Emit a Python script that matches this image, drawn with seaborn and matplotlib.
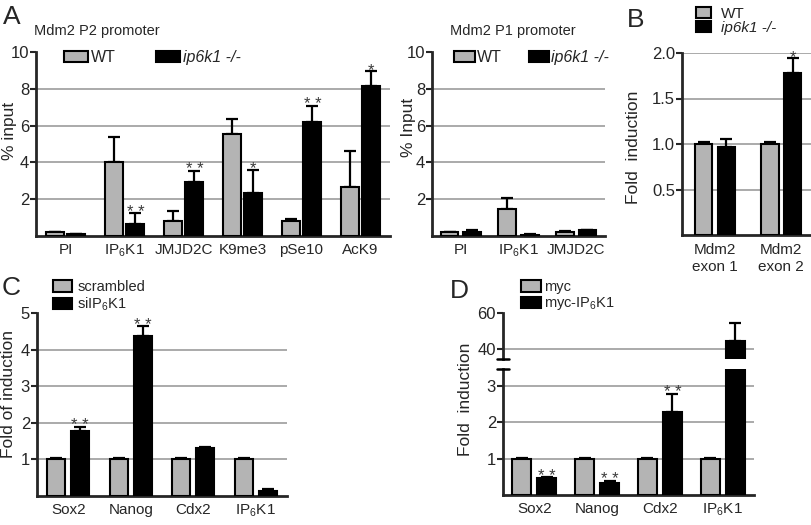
import numpy as np
import pandas as pd
import matplotlib
matplotlib.use("Agg")
import matplotlib.pyplot as plt
import seaborn as sns
from matplotlib.patches import Patch

# ---------------- data ----------------
p2_cats = ["PI", "IP$_6$K1", "JMJD2C", "K9me3", "pSe10", "AcK9"]
p2_wt = [0.20, 4.03, 0.83, 5.53, 0.83, 2.68]
p2_wt_err = [0.02, 1.35, 0.54, 0.85, 0.12, 1.95]
p2_ko = [0.10, 0.65, 2.91, 2.31, 6.20, 8.16]
p2_ko_err = [0.01, 0.58, 0.63, 1.27, 0.87, 0.79]
p2_ko_sig = ["", "**", "**", "*", "**", "*"]

p1_cats = ["PI", "IP$_6$K1", "JMJD2C"]
p1_wt = [0.20, 1.46, 0.22]
p1_wt_err = [0.01, 0.60, 0.04]
p1_ko = [0.22, 0.07, 0.30]
p1_ko_err = [0.11, 0.02, 0.02]
p1_ko_sig = ["", "", ""]

b_cats = ["Mdm2\nexon 1", "Mdm2\nexon 2"]
b_wt = [1.0, 1.0]
b_wt_err = [0.02, 0.02]
b_ko = [0.97, 1.78]
b_ko_err = [0.09, 0.16]
b_ko_sig = ["", "*"]

c_cats = ["Sox2", "Nanog", "Cdx2", "IP$_6$K1"]
c_scr = [1.0, 1.0, 1.0, 1.0]
c_scr_err = [0.03, 0.03, 0.03, 0.03]
c_si = [1.77, 4.36, 1.32, 0.15]
c_si_err = [0.12, 0.28, 0.02, 0.03]
c_si_sig = ["**", "**", "", ""]

d_cats = ["Sox2", "Nanog", "Cdx2", "IP$_6$K1"]
d_myc = [1.0, 1.0, 1.0, 1.0]
d_myc_err = [0.02, 0.02, 0.02, 0.02]
d_ip = [0.46, 0.32, 2.29, 44.6]
d_ip_err = [0.03, 0.07, 0.50, 9.9]
d_ip_sig = ["**", "**", "**", ""]

# ---------------- style ----------------
sns.set_style("ticks")
plt.rcParams["font.family"] = ["Liberation Sans", "DejaVu Sans"]
plt.rcParams["mathtext.default"] = "regular"

GRAY = "#b4b4b4"
GRID = "#9c9c9c"
W, H = 812, 525

fig = plt.figure(figsize=(W / 100, H / 100), dpi=100)


def add_ax(l, t, r, b):
    return fig.add_axes([l / W, 1 - b / H, (r - l) / W, (b - t) / H])


def ftext(x, y, s, **kw):
    return fig.text(x / W, 1 - y / H, s, **kw)


def bars(ax, cats, names, vals, errs, sigs, width, gap, ylim, yticks, ytl,
         grid, xlim=None, stars=True):
    n = len(cats)
    df = pd.DataFrame({"cat": cats * 2,
                       "grp": [names[0]] * n + [names[1]] * n,
                       "val": vals[0] + vals[1]})
    sns.barplot(data=df, x="cat", y="val", hue="grp", hue_order=names,
                palette=[GRAY, "black"], saturation=1, edgecolor="black",
                linewidth=1.5, width=width, gap=gap, errorbar=None,
                legend=False, ax=ax, zorder=3)
    pts = list(ax.patches)
    xs = np.array([p.get_x() + p.get_width() / 2 for p in pts])
    hs = np.array([p.get_height() for p in pts])
    es = np.array(errs[0] + errs[1])
    ax.errorbar(xs, hs, yerr=[np.zeros(len(es)), es], fmt="none",
                ecolor="black", elinewidth=1.6, capsize=4, capthick=1.6,
                zorder=2.9)
    if stars:
        for i, s in enumerate(sigs):
            if s:
                ax.annotate(" ".join(s), (xs[n + i], hs[n + i] + es[n + i]),
                            xytext=(0, -2.5), textcoords="offset points",
                            ha="center", va="baseline", fontsize=12,
                            color="#3a3a3a")
    for v in grid:
        ax.axhline(v, color=GRID, lw=1.2, zorder=1)
    ax.set_ylim(*ylim)
    ax.set_yticks(yticks)
    ax.set_yticklabels(ytl)
    ax.set_xlim(*(xlim if xlim else (-0.5, n - 0.5)))
    ax.set_xlabel("")
    ax.set_ylabel("")
    for sp in ["top", "right"]:
        ax.spines[sp].set_visible(False)
    for sp in ["left", "bottom"]:
        ax.spines[sp].set_linewidth(2)
    ax.tick_params(axis="y", direction="out", length=4, width=1.5,
                   labelsize=12, pad=1)
    ax.tick_params(axis="x", length=0, labelsize=11, pad=5)
    ax.set_facecolor("none")
    return ax


def legend(handles, labels, x, y, fs, ncol=1, **kw):
    leg = fig.legend(handles, labels, loc="upper left",
                     bbox_to_anchor=(x / W, 1 - y / H), ncol=ncol,
                     frameon=False, borderpad=0, borderaxespad=0,
                     fontsize=fs, **kw)
    return leg


def handles():
    return [Patch(facecolor=GRAY, edgecolor="black", linewidth=1.5),
            Patch(facecolor="black", edgecolor="black", linewidth=1.5)]


# ---------------- Panel A: P2 ----------------
axA2 = add_ax(36, 52, 390, 236)
bars(axA2, p2_cats, ["WT", "KO"], [p2_wt, p2_ko], [p2_wt_err, p2_ko_err],
     p2_ko_sig, 0.74, 0.18, (0, 10), [2, 4, 6, 8, 10],
     ["2", "4", "6", "8", "10"], [2, 4, 6, 8])
leg = legend(handles(), ["WT", "ip6k1 -/-"], 64, 50, 11.5, ncol=2,
             handlelength=1.5, handleheight=0.62, handletextpad=0.2,
             columnspacing=2.5)
leg.get_texts()[1].set_fontstyle("italic")
ftext(97, 31, "Mdm2 P2 promoter", fontsize=10.5, ha="center", va="center")
ftext(10, 131, "% input", fontsize=12.5, rotation=90, ha="center",
      va="center")

# ---------------- Panel A: P1 ----------------
axA1 = add_ax(432, 52, 605, 236)
bars(axA1, p1_cats, ["WT", "KO"], [p1_wt, p1_ko], [p1_wt_err, p1_ko_err],
     p1_ko_sig, 0.78, 0.22, (0, 10), [2, 4, 6, 8, 10],
     ["2", "4", "6", "8", "10"], [2, 4, 6, 8])
leg = legend(handles(), ["WT", "ip6k1 -/-"], 454, 50, 11.5, ncol=2,
             handlelength=1.3, handleheight=0.62, handletextpad=0.12,
             columnspacing=1.7)
leg.get_texts()[1].set_fontstyle("italic")
ftext(513, 31, "Mdm2 P1 promoter", fontsize=10.5, ha="center", va="center")
ftext(409, 127, "% Input", fontsize=12.5, rotation=90, ha="center",
      va="center")

# ---------------- Panel B ----------------
axB = add_ax(682, 53, 811, 235)
bars(axB, b_cats, ["WT", "KO"], [b_wt, b_ko], [b_wt_err, b_ko_err],
     b_ko_sig, 0.69, 0.23, (0, 2), [0.5, 1.0, 1.5, 2.0],
     ["0.5", "1.0", "1.5", "2.0"], [0.5, 1.0, 1.5, 2.0], xlim=(-0.5, 1.45))
axB.tick_params(axis="x", pad=6)
leg = legend(handles(), ["WT", "ip6k1 -/-"], 696, 7, 11,
             handlelength=0.95, handleheight=0.72, handletextpad=0.7,
             labelspacing=0.0)
leg.get_texts()[1].set_fontstyle("italic")
ftext(634, 147, "Fold  induction", fontsize=12.5, rotation=90, ha="center",
      va="center")

# ---------------- Panel C ----------------
axC = add_ax(37, 313, 287, 496)
bars(axC, c_cats, ["scrambled", "si"], [c_scr, c_si], [c_scr_err, c_si_err],
     c_si_sig, 0.77, 0.245, (0, 5), [1, 2, 3, 4, 5],
     ["1", "2", "3", "4", "5"], [1, 2, 3, 4])
legend(handles(), ["scrambled", "siIP$_6$K1"], 53, 280, 10.5,
       handlelength=1.3, handleheight=0.8, handletextpad=0.35,
       labelspacing=0.1)
ftext(9, 394, "Fold of induction", fontsize=12.5, rotation=90, ha="center",
      va="center")

# ---------------- Panel D (broken axis) ----------------
axDu = add_ax(503, 313, 754, 359)
axDl = add_ax(503, 369, 754, 495)
bars(axDu, d_cats, ["myc", "myc-IP6K1"], [d_myc, d_ip], [d_myc_err, d_ip_err],
     d_ip_sig, 0.80, 0.245, (34.5, 60), [40, 60], ["40", "60"], [40],
     stars=False)
axDu.spines["bottom"].set_visible(False)
axDu.tick_params(axis="x", length=0, labelbottom=False)
bars(axDl, d_cats, ["myc", "myc-IP6K1"], [d_myc, d_ip], [d_myc_err, d_ip_err],
     d_ip_sig, 0.80, 0.245, (0, 3.47), [1, 2, 3], ["1", "2", "3"], [1, 2, 3])
for a, yy in ((axDu, 0), (axDl, 1)):
    a.plot([-0.022, 0.022], [yy, yy], transform=a.transAxes, color="black",
           lw=1.8, clip_on=False, zorder=5)
legend(handles(), ["myc", "myc-IP$_6$K1"], 521, 280, 10.5,
       handlelength=1.35, handleheight=0.8, handletextpad=0.25,
       labelspacing=0.1)
ftext(466, 399, "Fold  induction", fontsize=12.5, rotation=90, ha="center",
      va="center")

# ---------------- panel letters ----------------
for x, y, s in ((12, 17, "A"), (636, 20, "B"), (11, 288, "C"), (459, 291, "D")):
    ftext(x, y, s, fontsize=19, ha="center", va="center")

fig.savefig("out.png", dpi=100)
